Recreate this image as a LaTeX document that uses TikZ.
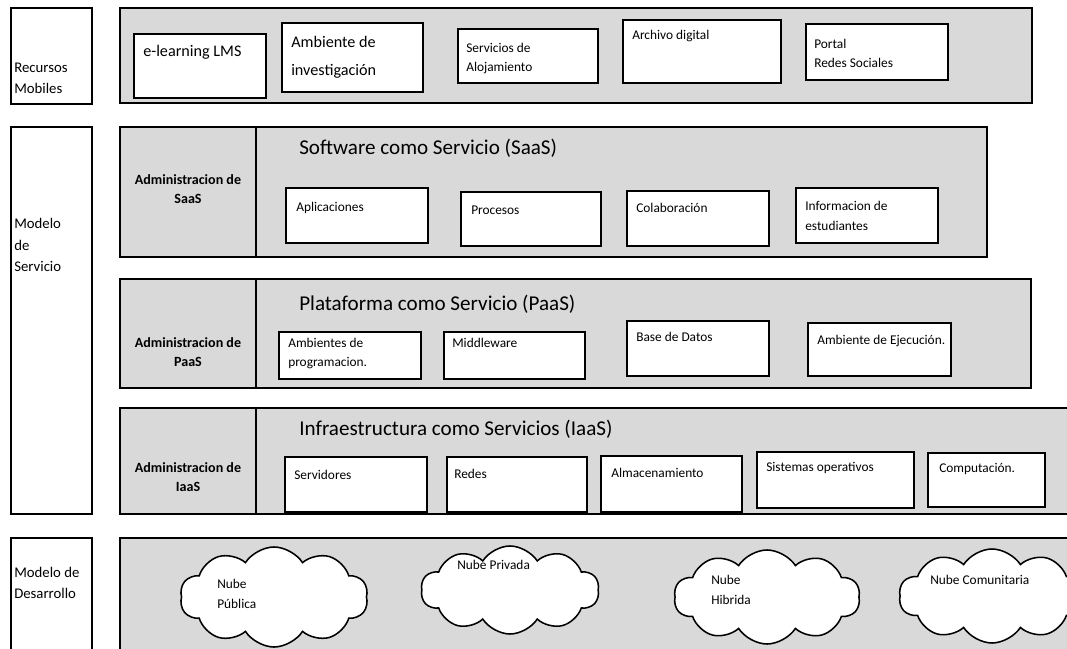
\documentclass[tikz,border=0pt]{standalone}
\usepackage{fontspec}
\setmainfont{Carlito}
\usetikzlibrary{fit,shapes.symbols}
\definecolor{fondo}{RGB}{217,217,217}

\begin{document}
\begin{tikzpicture}[x=0.025cm,y=-0.025cm,
    banda/.style={draw, line width=1.1pt, fill=fondo, inner sep=0pt},
    caja/.style={draw, line width=1.1pt, fill=white, inner sep=0pt},
    nube/.style={cloud, draw, line width=1.1pt, fill=white, cloud puffs=10,
      cloud puff arc=115, aspect=2, inner sep=0pt},
    txt/.style={anchor=west, align=left, inner sep=0pt, font=\fontsize{9.5}{14}\selectfont},
    grande/.style={anchor=west, align=left, inner sep=0pt, font=\fontsize{11.5}{20}\selectfont},
    titulo/.style={anchor=west, inner sep=0pt, font=\fontsize{15}{18}\selectfont},
    admin/.style={align=center, inner sep=0pt, font=\fontsize{10}{14}\selectfont\bfseries},
    lado/.style={anchor=west, align=left, inner sep=0pt, font=\fontsize{10.5}{15}\selectfont}]
  \useasboundingbox (0,0) rectangle (1067,649);
  \clip (0,0) rectangle (1067,649);

  % columna izquierda
  \node[caja, fit={(11,8) (92,104)}] (recursos) {};
  \node[caja, fit={(11,127) (92,514)}] (modelo) {};
  \node[caja, fit={(11,538) (92,660)}] (desarrollo) {};
  \node[lado] (recursos-t) at (14,78) {Recursos\\Mobiles};
  \node[lado] (modelo-t) at (14,245) {Modelo\\de\\Servicio};
  \node[lado] (desarrollo-t) at (14,583) {Modelo de\\Desarrollo};

  % recursos mobiles
  \node[banda, fit={(120,8) (1032,103)}] (movil) {};
  \node[caja, fit={(134,34) (266,98)}] (elearn) {};
  \node[caja, fit={(282,23) (423,92)}] (investig) {};
  \node[caja, fit={(458,29) (598,83)}] (alojam) {};
  \node[caja, fit={(623,20) (781,83)}] (archivo) {};
  \node[caja, fit={(806,24) (948,80)}] (portal) {};
  \node[grande] (elearn-t) at (143,52) {e-learning LMS};
  \node[grande] (investig-t) at (291,57) {Ambiente de\\investigación};
  \node[txt] (alojam-t) at (466,58.5) {Servicios de\\Alojamiento};
  \node[txt] (archivo-t) at (632,36) {Archivo digital};
  \node[txt] (portal-t) at (814,53.5) {Portal\\Redes Sociales};

  % SaaS
  \node[banda, fit={(120,127) (987,257)}] (saas) {};
  \draw[line width=1.1pt] (saas.north west -| 256,0) -- (saas.south west -| 256,0);
  \node[admin] (saas-a) at (188,189) {Administracion de\\SaaS};
  \node[titulo] (saas-t) at (299,148) {Software como Servicio (SaaS)};
  \node[caja, fit={(286,188) (428,243)}] (apl) {};
  \node[caja, fit={(461,192) (601,246)}] (proc) {};
  \node[caja, fit={(627,191) (769,246)}] (colab) {};
  \node[caja, fit={(796,188) (938,243)}] (info) {};
  \node[txt] (apl-t) at (296,208) {Aplicaciones};
  \node[txt] (proc-t) at (471,210) {Procesos};
  \node[txt] (colab-t) at (636,208) {Colaboración};
  \node[txt] (info-t) at (805,216) {Informacion de\\estudiantes};

  % PaaS
  \node[banda, fit={(120,279) (1031,388)}] (paas) {};
  \draw[line width=1.1pt] (paas.north west -| 256,0) -- (paas.south west -| 256,0);
  \node[admin] (paas-a) at (188,352) {Administracion de\\PaaS};
  \node[titulo] (paas-t) at (299,304) {Plataforma como Servicio (PaaS)};
  \node[caja, fit={(279,332) (421,379)}] (progr) {};
  \node[caja, fit={(444,332) (585,379)}] (middle) {};
  \node[caja, fit={(627,321) (769,376)}] (datos) {};
  \node[caja, fit={(808,323) (951,376)}] (ejec) {};
  \node[txt] (progr-t) at (288,353.5) {Ambientes de\\programacion.};
  \node[txt] (middle-t) at (452,343) {Middleware};
  \node[txt] (datos-t) at (636,337) {Base de Datos};
  \node[txt] (ejec-t) at (817,341) {Ambiente de Ejecución.};

  % IaaS
  \node[banda, fit={(120,408) (1080,514)}] (iaas) {};
  \draw[line width=1.1pt] (iaas.north west -| 256,0) -- (iaas.south west -| 256,0);
  \node[admin] (iaas-a) at (188,477) {Administracion de\\IaaS};
  \node[titulo] (iaas-t) at (299,429) {Infraestructura como Servicios (IaaS)};
  \node[caja, fit={(285,457) (427,512)}] (serv) {};
  \node[caja, fit={(447,457) (587,512)}] (redes) {};
  \node[caja, fit={(601,456) (742,512)}] (almac) {};
  \node[caja, fit={(757,452) (914,508)}] (sisop) {};
  \node[caja, fit={(928,453) (1045,507)}] (comput) {};
  \node[txt] (serv-t) at (294,475) {Servidores};
  \node[txt] (redes-t) at (454,474) {Redes};
  \node[txt] (almac-t) at (611,473) {Almacenamiento};
  \node[txt] (sisop-t) at (766,468) {Sistemas operativos};
  \node[txt] (comput-t) at (939,469) {Computación.};

  % modelo de desarrollo
  \node[banda, fit={(120,538) (1080,660)}] (despliegue) {};
  \node[nube, minimum width=4.7cm, minimum height=2.5cm] (publica) at (274,597) {};
  \node[nube, minimum width=4.45cm, minimum height=2.2cm] (privada) at (510,590) {};
  \node[nube, minimum width=4.65cm, minimum height=2.35cm] (hibrida) at (767,597) {};
  \node[nube, minimum width=4.65cm, minimum height=2.35cm] (comunit) at (992,596) {};
  \node[txt] (publica-t) at (217,594) {Nube\\Pública};
  \node[txt] (privada-t) at (457,565) {Nube Privada};
  \node[txt] (hibrida-t) at (711,590) {Nube\\Hibrida};
  \node[txt] (comunit-t) at (930,580) {Nube Comunitaria};
\end{tikzpicture}
\end{document}
